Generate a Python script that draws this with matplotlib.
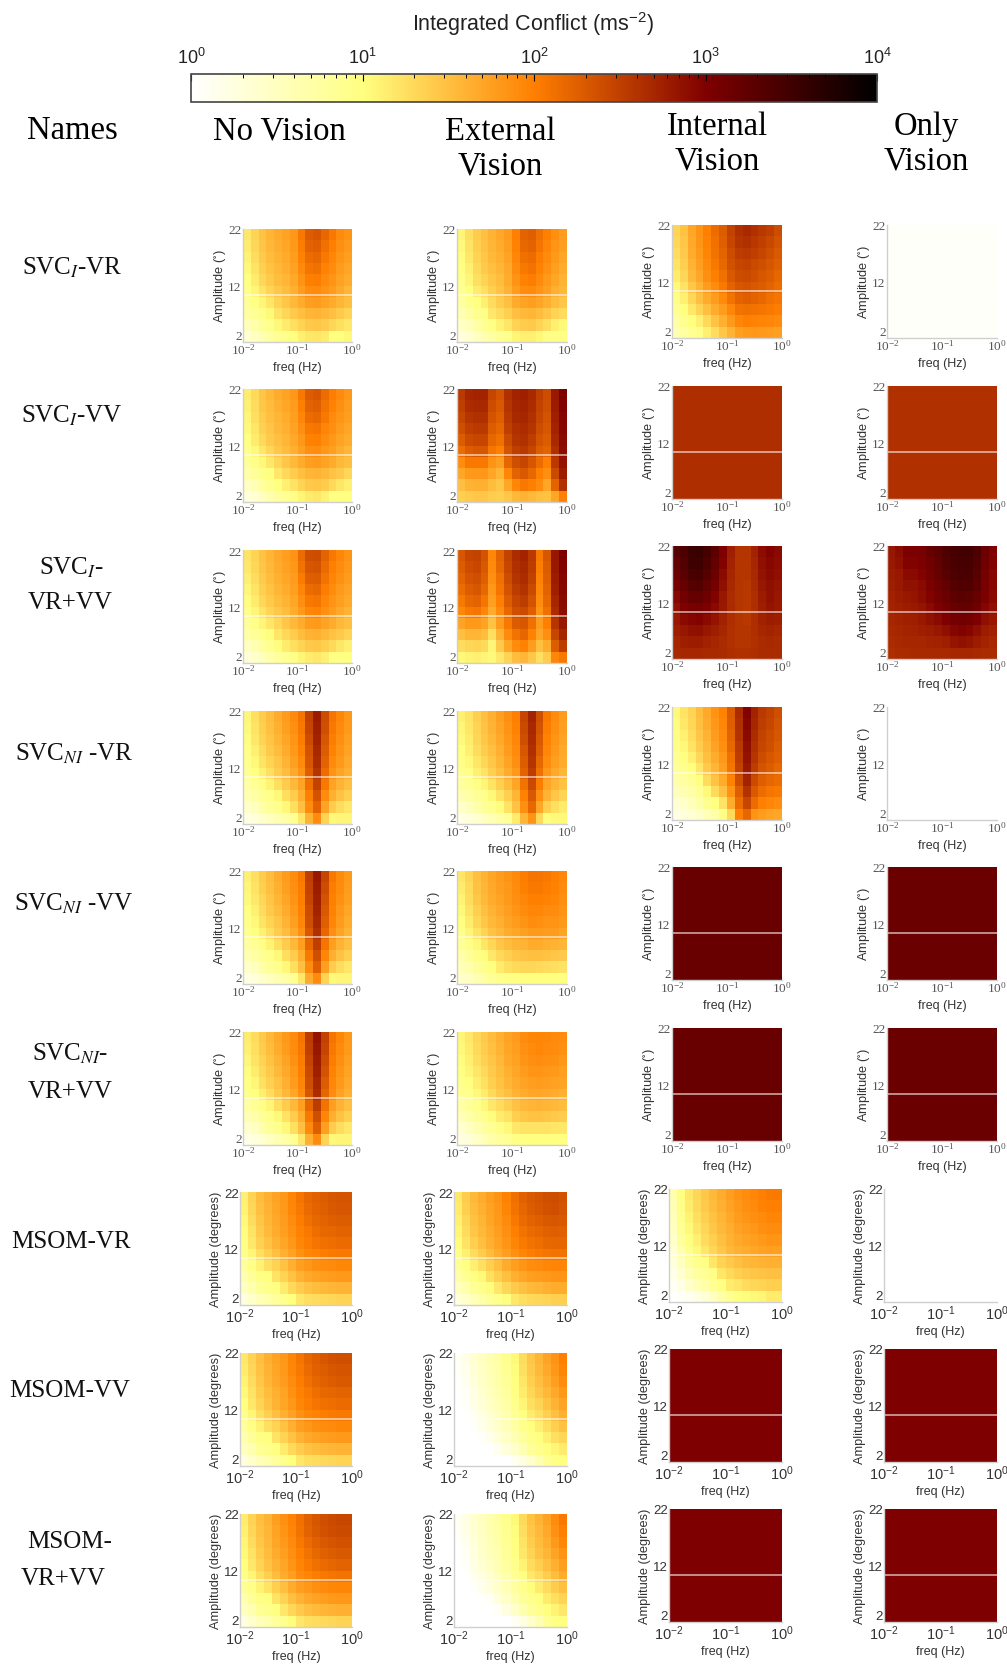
"""Integrated conflict heatmaps: motion cueing models x vision conditions."""
import matplotlib
matplotlib.use("Agg")
import matplotlib.pyplot as plt
import numpy as np
from matplotlib.cm import ScalarMappable
from matplotlib.colors import LinearSegmentedColormap, LogNorm

plt.rcParams["font.family"] = ["Liberation Sans", "DejaVu Sans"]
plt.rcParams["mathtext.fontset"] = "custom"
plt.rcParams["mathtext.rm"] = "Liberation Sans"
plt.rcParams["mathtext.it"] = "Liberation Sans:italic"
plt.rcParams["mathtext.default"] = "regular"

W, H = 1007, 1665

# log10(conflict) * 100, rows from 22 deg down to 2 deg, columns 0.01 -> 1 Hz
svc_i_vr_none = [
    [118, 135, 148, 158, 165, 172, 182, 205, 228, 232, 218, 205, 192, 185],
    [115, 132, 146, 156, 163, 170, 180, 202, 222, 226, 212, 200, 188, 180],
    [110, 128, 142, 152, 160, 167, 177, 198, 215, 218, 205, 195, 183, 175],
    [105, 122, 138, 148, 156, 163, 173, 192, 208, 212, 198, 190, 178, 170],
    [100, 115, 132, 142, 152, 158, 168, 185, 200, 202, 192, 184, 174, 165],
    [95, 108, 122, 135, 145, 152, 162, 178, 190, 192, 185, 178, 168, 158],
    [85, 98, 108, 120, 135, 145, 155, 165, 175, 178, 172, 165, 158, 150],
    [75, 85, 95, 105, 122, 132, 142, 150, 158, 160, 155, 150, 142, 135],
    [55, 68, 82, 92, 105, 115, 125, 135, 142, 145, 140, 132, 125, 118],
    [38, 48, 60, 72, 85, 92, 100, 112, 118, 120, 115, 100, 100, 105],
]
svc_i_vr_ext = [
    [108, 125, 140, 150, 160, 168, 178, 200, 222, 225, 212, 200, 188, 178],
    [105, 122, 138, 148, 158, 165, 175, 198, 218, 222, 208, 196, 184, 175],
    [102, 118, 135, 145, 155, 162, 172, 195, 212, 215, 202, 192, 180, 170],
    [98, 112, 130, 142, 150, 158, 168, 190, 205, 210, 198, 186, 175, 165],
    [92, 108, 125, 135, 145, 152, 165, 185, 198, 202, 192, 180, 170, 160],
    [85, 100, 115, 125, 138, 148, 160, 178, 190, 192, 184, 175, 162, 155],
    [75, 90, 100, 112, 128, 140, 150, 165, 172, 175, 170, 162, 152, 145],
    [60, 75, 88, 95, 118, 128, 138, 150, 155, 158, 152, 145, 135, 128],
    [45, 55, 72, 85, 98, 110, 120, 135, 140, 142, 135, 125, 112, 105],
    [28, 38, 50, 62, 72, 82, 92, 108, 112, 112, 105, 95, 95, 98],
]
svc_i_vr_int = [
    [135, 148, 170, 185, 200, 215, 228, 248, 262, 268, 262, 256, 250, 240],
    [132, 145, 168, 183, 198, 212, 225, 245, 258, 262, 256, 250, 243, 235],
    [128, 142, 165, 180, 196, 210, 222, 240, 252, 255, 250, 245, 238, 230],
    [122, 138, 160, 176, 192, 205, 218, 236, 245, 248, 242, 238, 232, 225],
    [115, 132, 155, 170, 188, 200, 212, 230, 240, 242, 238, 232, 228, 220],
    [105, 122, 145, 160, 178, 190, 205, 222, 232, 235, 230, 228, 222, 215],
    [95, 112, 132, 150, 165, 178, 192, 210, 222, 225, 222, 218, 212, 208],
    [85, 100, 118, 135, 150, 165, 178, 195, 210, 212, 210, 208, 205, 202],
    [70, 88, 100, 112, 130, 148, 162, 180, 195, 200, 198, 196, 195, 192],
    [60, 72, 85, 95, 112, 128, 145, 160, 175, 180, 182, 180, 178, 175],
]
svc_i_vr_only = [[4]]

svc_i_vv_none = [
    [115, 130, 146, 155, 165, 172, 182, 205, 228, 232, 215, 202, 192, 182],
    [112, 128, 144, 153, 162, 170, 178, 200, 222, 225, 210, 198, 188, 178],
    [108, 125, 140, 150, 158, 166, 175, 195, 215, 218, 205, 192, 184, 175],
    [105, 120, 136, 146, 155, 162, 172, 188, 205, 208, 196, 188, 178, 170],
    [100, 115, 130, 142, 150, 158, 168, 182, 198, 200, 190, 182, 172, 165],
    [92, 105, 120, 132, 145, 152, 162, 175, 188, 190, 182, 175, 165, 158],
    [82, 95, 105, 118, 132, 145, 155, 165, 175, 178, 172, 165, 155, 150],
    [70, 82, 92, 100, 118, 130, 140, 150, 158, 160, 155, 148, 142, 132],
    [48, 60, 78, 88, 100, 112, 122, 135, 142, 145, 140, 130, 120, 112],
    [30, 38, 50, 62, 75, 85, 95, 108, 115, 118, 110, 98, 98, 100],
]
svc_i_vv_ext = [
    [255, 270, 272, 272, 245, 235, 262, 272, 275, 268, 250, 240, 280, 300],
    [250, 265, 268, 268, 240, 230, 258, 270, 272, 265, 248, 238, 278, 298],
    [245, 258, 262, 262, 235, 225, 255, 268, 270, 262, 245, 235, 275, 296],
    [238, 250, 255, 255, 228, 220, 250, 262, 265, 258, 240, 232, 272, 295],
    [228, 242, 245, 245, 220, 212, 242, 258, 262, 252, 235, 228, 268, 292],
    [215, 228, 232, 232, 208, 200, 235, 250, 255, 245, 228, 222, 262, 290],
    [190, 205, 205, 205, 185, 175, 220, 238, 245, 232, 215, 200, 255, 285],
    [170, 180, 182, 182, 170, 158, 195, 222, 230, 218, 200, 188, 242, 278],
    [150, 160, 162, 162, 152, 145, 170, 195, 205, 200, 190, 170, 222, 262],
    [138, 142, 145, 145, 140, 138, 145, 155, 160, 155, 150, 148, 170, 200],
]
svc_i_vv_int = [[264]]
svc_i_vv_only = [[262]]

svc_i_both_none = [
    [122, 135, 148, 158, 168, 176, 185, 215, 238, 240, 222, 205, 195, 185],
    [118, 132, 146, 155, 165, 173, 182, 210, 232, 235, 216, 200, 190, 182],
    [113, 128, 142, 152, 162, 170, 178, 203, 225, 228, 210, 196, 186, 178],
    [108, 122, 138, 148, 158, 165, 175, 195, 215, 218, 202, 190, 180, 172],
    [102, 115, 132, 142, 152, 160, 170, 188, 205, 208, 195, 184, 175, 168],
    [95, 108, 122, 135, 145, 152, 165, 180, 195, 198, 186, 178, 168, 160],
    [82, 95, 108, 120, 132, 145, 155, 165, 178, 180, 172, 165, 155, 150],
    [72, 82, 92, 102, 120, 130, 140, 152, 160, 162, 155, 148, 142, 135],
    [50, 62, 78, 90, 102, 115, 125, 135, 142, 145, 138, 130, 120, 112],
    [32, 42, 52, 65, 78, 85, 95, 108, 115, 118, 112, 98, 98, 100],
]
svc_i_both_ext = [
    [232, 245, 248, 235, 195, 222, 248, 265, 272, 255, 205, 232, 282, 300],
    [228, 240, 244, 230, 192, 218, 245, 262, 268, 252, 202, 228, 280, 298],
    [222, 235, 238, 225, 188, 212, 240, 258, 265, 248, 198, 225, 278, 296],
    [215, 228, 232, 218, 182, 208, 235, 252, 260, 242, 195, 222, 275, 295],
    [205, 218, 222, 208, 175, 200, 228, 245, 252, 235, 190, 218, 270, 292],
    [195, 205, 208, 195, 165, 192, 218, 238, 242, 225, 185, 212, 265, 290],
    [172, 180, 180, 172, 148, 178, 205, 228, 232, 212, 178, 200, 258, 282],
    [150, 158, 158, 152, 125, 160, 192, 210, 220, 198, 170, 188, 245, 270],
    [128, 132, 135, 130, 108, 142, 170, 190, 198, 178, 150, 165, 228, 252],
    [105, 110, 112, 108, 105, 118, 135, 152, 158, 145, 125, 140, 195, 205],
]
svc_i_both_int = [
    [330, 340, 352, 355, 345, 325, 300, 275, 258, 258, 272, 290, 298, 292],
    [322, 335, 350, 350, 340, 320, 298, 272, 258, 258, 270, 288, 295, 290],
    [315, 330, 342, 345, 332, 315, 292, 270, 258, 258, 268, 285, 292, 288],
    [305, 320, 332, 335, 322, 308, 288, 268, 258, 256, 266, 282, 288, 284],
    [295, 310, 320, 322, 312, 298, 282, 265, 258, 256, 264, 278, 286, 282],
    [288, 300, 306, 308, 302, 292, 280, 266, 258, 256, 264, 276, 284, 280],
    [280, 292, 296, 298, 292, 284, 274, 264, 258, 256, 264, 274, 278, 276],
    [275, 282, 286, 288, 282, 276, 270, 262, 258, 258, 264, 270, 272, 270],
    [270, 276, 278, 278, 274, 270, 266, 262, 258, 258, 262, 266, 268, 266],
    [268, 270, 270, 270, 268, 268, 266, 264, 262, 262, 264, 266, 266, 266],
]
svc_i_both_only = [
    [282, 290, 302, 302, 305, 318, 325, 338, 345, 348, 348, 338, 315, 300],
    [280, 286, 298, 298, 302, 312, 322, 335, 342, 345, 345, 335, 312, 298],
    [278, 282, 292, 292, 298, 308, 318, 330, 338, 342, 342, 330, 308, 295],
    [276, 280, 286, 286, 292, 302, 312, 322, 332, 336, 336, 325, 305, 294],
    [274, 278, 282, 284, 290, 298, 308, 316, 325, 330, 328, 318, 302, 292],
    [272, 275, 278, 280, 284, 292, 300, 310, 318, 322, 320, 312, 296, 288],
    [270, 272, 275, 276, 280, 286, 292, 300, 308, 310, 308, 300, 288, 282],
    [268, 270, 272, 274, 276, 278, 282, 288, 296, 298, 296, 288, 278, 274],
    [266, 268, 270, 270, 270, 272, 274, 276, 284, 286, 284, 278, 272, 268],
    [264, 266, 266, 268, 268, 268, 268, 268, 270, 270, 270, 268, 266, 266],
]

svc_ni_vr_none = [
    [108, 125, 140, 152, 165, 178, 192, 208, 248, 278, 240, 208, 195, 182],
    [105, 122, 138, 150, 162, 175, 188, 205, 245, 275, 238, 205, 192, 180],
    [102, 118, 134, 146, 158, 170, 184, 202, 240, 272, 232, 202, 188, 176],
    [98, 112, 128, 142, 152, 165, 180, 198, 235, 268, 228, 198, 184, 172],
    [92, 106, 122, 135, 146, 160, 175, 192, 232, 265, 222, 192, 180, 168],
    [85, 100, 112, 125, 140, 152, 168, 185, 225, 258, 215, 185, 172, 162],
    [72, 85, 98, 110, 125, 140, 155, 172, 212, 248, 205, 172, 160, 150],
    [62, 72, 85, 92, 105, 125, 140, 162, 200, 235, 190, 162, 148, 138],
    [42, 52, 70, 82, 92, 105, 125, 150, 190, 222, 172, 140, 128, 118],
    [22, 30, 40, 50, 60, 70, 85, 118, 160, 190, 135, 105, 108, 108],
]
svc_ni_vr_ext = [
    [112, 122, 138, 150, 162, 175, 188, 200, 245, 272, 238, 205, 190, 178],
    [108, 120, 135, 148, 160, 172, 185, 198, 242, 268, 235, 202, 188, 175],
    [105, 116, 132, 145, 155, 168, 182, 195, 238, 265, 230, 198, 184, 172],
    [100, 112, 128, 140, 150, 162, 178, 192, 232, 262, 225, 195, 180, 168],
    [95, 106, 120, 132, 145, 158, 172, 188, 228, 258, 218, 190, 175, 165],
    [88, 98, 112, 122, 138, 150, 165, 180, 222, 252, 212, 182, 168, 158],
    [75, 85, 96, 108, 122, 138, 152, 170, 210, 242, 202, 170, 158, 148],
    [62, 72, 82, 92, 105, 122, 138, 158, 198, 230, 188, 160, 145, 135],
    [42, 52, 68, 80, 90, 102, 122, 148, 188, 218, 170, 138, 125, 115],
    [22, 30, 38, 48, 58, 68, 82, 115, 158, 185, 130, 102, 105, 105],
]
svc_ni_vr_int = [
    [105, 122, 135, 152, 168, 185, 198, 228, 265, 298, 272, 255, 248, 238],
    [102, 118, 132, 150, 165, 182, 195, 225, 262, 295, 270, 252, 245, 235],
    [98, 112, 128, 146, 160, 178, 192, 222, 260, 292, 265, 248, 240, 232],
    [92, 106, 122, 140, 156, 172, 188, 218, 255, 288, 262, 245, 238, 228],
    [85, 98, 112, 132, 150, 165, 182, 212, 252, 285, 258, 240, 232, 225],
    [78, 88, 100, 120, 142, 158, 175, 208, 248, 280, 252, 235, 228, 220],
    [65, 75, 85, 100, 128, 148, 165, 198, 238, 272, 242, 225, 220, 215],
    [52, 60, 70, 85, 105, 130, 150, 185, 225, 260, 230, 215, 208, 205],
    [35, 42, 55, 70, 88, 100, 122, 165, 215, 245, 215, 200, 195, 190],
    [20, 28, 35, 42, 58, 70, 95, 130, 200, 220, 185, 178, 172, 170],
]
svc_ni_vr_only = [[0]]

svc_ni_vv_none = [
    [112, 125, 140, 152, 165, 178, 190, 205, 250, 282, 245, 205, 192, 180],
    [108, 122, 138, 150, 162, 175, 188, 202, 248, 278, 240, 202, 190, 178],
    [105, 118, 132, 146, 158, 170, 185, 200, 245, 275, 235, 200, 186, 175],
    [100, 112, 128, 142, 152, 165, 180, 198, 240, 272, 230, 198, 182, 170],
    [95, 106, 122, 135, 146, 160, 175, 195, 238, 268, 225, 195, 178, 166],
    [88, 100, 112, 125, 140, 152, 168, 188, 230, 262, 218, 188, 172, 160],
    [75, 85, 98, 110, 125, 140, 155, 175, 218, 250, 208, 175, 160, 150],
    [62, 72, 85, 92, 105, 125, 140, 162, 205, 238, 195, 162, 148, 138],
    [42, 52, 70, 82, 92, 105, 125, 150, 190, 225, 175, 140, 128, 118],
    [22, 30, 40, 50, 60, 70, 85, 118, 165, 192, 135, 105, 108, 108],
]
svc_ni_vv_ext = [
    [120, 135, 150, 160, 170, 178, 185, 192, 202, 208, 208, 205, 200, 195],
    [115, 130, 148, 158, 168, 175, 182, 190, 200, 205, 205, 202, 198, 192],
    [110, 128, 144, 155, 165, 172, 180, 188, 195, 200, 200, 198, 195, 188],
    [105, 122, 138, 150, 160, 168, 176, 184, 190, 195, 195, 192, 190, 185],
    [100, 115, 132, 145, 155, 162, 172, 178, 185, 190, 188, 185, 185, 180],
    [92, 108, 122, 135, 148, 155, 165, 170, 175, 180, 180, 178, 178, 172],
    [80, 95, 105, 120, 132, 145, 152, 158, 160, 165, 165, 162, 160, 158],
    [68, 80, 95, 102, 118, 130, 138, 145, 148, 150, 150, 148, 145, 142],
    [55, 65, 80, 90, 100, 115, 125, 130, 132, 132, 130, 128, 125, 122],
    [40, 48, 60, 72, 82, 90, 95, 98, 100, 100, 100, 100, 100, 100],
]
svc_ni_vv_int = [[318]]
svc_ni_vv_only = [[316]]

svc_ni_both_none = [
    [115, 128, 142, 155, 168, 180, 192, 208, 252, 285, 248, 208, 195, 182],
    [112, 125, 140, 152, 165, 178, 190, 205, 250, 282, 245, 205, 192, 180],
    [108, 122, 135, 148, 160, 172, 186, 202, 246, 278, 240, 202, 188, 176],
    [102, 115, 130, 142, 155, 168, 182, 200, 242, 275, 235, 198, 184, 172],
    [98, 108, 124, 136, 148, 162, 178, 196, 238, 270, 228, 195, 180, 168],
    [90, 100, 114, 126, 142, 155, 170, 190, 232, 265, 220, 190, 174, 162],
    [72, 85, 96, 108, 125, 140, 155, 175, 218, 252, 210, 175, 160, 150],
    [60, 70, 82, 92, 105, 122, 140, 162, 205, 238, 195, 162, 148, 138],
    [40, 50, 68, 80, 92, 105, 125, 150, 192, 225, 175, 140, 128, 118],
    [20, 28, 38, 48, 60, 70, 85, 118, 162, 192, 135, 105, 108, 108],
]
svc_ni_both_ext = [
    [108, 118, 132, 142, 152, 162, 172, 178, 190, 194, 196, 194, 192, 190],
    [105, 115, 130, 140, 150, 160, 170, 176, 187, 192, 194, 192, 190, 186],
    [102, 112, 126, 136, 146, 156, 168, 174, 184, 188, 190, 188, 186, 182],
    [98, 108, 120, 130, 142, 152, 162, 170, 178, 184, 184, 182, 180, 176],
    [92, 100, 114, 124, 138, 148, 158, 165, 172, 176, 178, 176, 174, 172],
    [85, 92, 105, 116, 130, 142, 150, 160, 165, 170, 170, 168, 166, 162],
    [72, 82, 92, 105, 118, 128, 138, 148, 155, 158, 160, 158, 156, 152],
    [58, 68, 80, 90, 102, 115, 122, 138, 145, 148, 148, 146, 142, 140],
    [38, 48, 62, 75, 85, 95, 105, 118, 122, 122, 122, 122, 120, 118],
    [25, 32, 45, 55, 68, 78, 85, 95, 98, 100, 100, 100, 100, 100],
]
svc_ni_both_int = [[318]]
svc_ni_both_only = [[317]]

msom_vr_none = [
    [112, 135, 152, 162, 172, 182, 196, 208, 218, 224, 228, 232, 234, 234],
    [110, 132, 150, 160, 170, 180, 194, 206, 216, 222, 226, 230, 232, 232],
    [105, 128, 146, 158, 168, 178, 190, 202, 212, 218, 222, 226, 228, 228],
    [102, 122, 142, 154, 165, 175, 186, 198, 206, 214, 218, 220, 222, 222],
    [98, 118, 136, 148, 160, 170, 182, 194, 202, 208, 212, 214, 216, 216],
    [92, 108, 125, 138, 150, 162, 174, 186, 194, 198, 202, 204, 206, 206],
    [78, 95, 110, 125, 135, 148, 162, 175, 182, 188, 190, 192, 194, 194],
    [62, 80, 95, 100, 122, 135, 148, 160, 168, 172, 176, 178, 180, 180],
    [48, 62, 82, 92, 98, 115, 130, 140, 148, 152, 156, 158, 160, 160],
    [25, 40, 55, 65, 78, 90, 100, 118, 125, 128, 130, 132, 135, 135],
]
msom_vr_ext = [
    [118, 140, 155, 165, 175, 185, 198, 212, 224, 230, 234, 238, 240, 236],
    [115, 138, 152, 162, 172, 182, 196, 210, 220, 228, 232, 236, 238, 234],
    [112, 132, 148, 158, 170, 180, 192, 206, 216, 222, 226, 230, 232, 230],
    [108, 128, 145, 155, 165, 176, 188, 200, 210, 216, 220, 224, 226, 224],
    [102, 122, 138, 150, 162, 172, 184, 196, 204, 210, 214, 218, 220, 220],
    [95, 112, 128, 140, 152, 165, 176, 188, 196, 202, 206, 208, 210, 210],
    [82, 98, 112, 125, 138, 150, 165, 176, 184, 190, 192, 194, 196, 196],
    [68, 85, 98, 105, 125, 138, 150, 162, 170, 176, 178, 180, 184, 184],
    [50, 65, 82, 92, 102, 118, 132, 142, 150, 156, 158, 162, 165, 165],
    [30, 42, 55, 68, 80, 92, 102, 118, 125, 130, 132, 135, 138, 138],
]
msom_vr_int = [
    [65, 100, 118, 132, 145, 155, 165, 175, 185, 190, 195, 200, 204, 204],
    [60, 95, 115, 130, 142, 152, 162, 172, 182, 188, 192, 198, 200, 200],
    [55, 92, 110, 125, 138, 148, 158, 168, 178, 184, 188, 192, 196, 196],
    [50, 85, 105, 120, 132, 145, 155, 164, 174, 178, 182, 188, 190, 190],
    [42, 78, 100, 112, 128, 138, 150, 160, 168, 172, 176, 180, 184, 184],
    [35, 65, 90, 105, 120, 132, 145, 155, 162, 166, 170, 174, 176, 176],
    [28, 50, 75, 90, 98, 120, 135, 142, 150, 155, 158, 160, 162, 162],
    [18, 38, 60, 75, 85, 95, 120, 130, 138, 142, 146, 148, 150, 150],
    [10, 22, 42, 58, 70, 85, 98, 115, 120, 128, 132, 135, 138, 138],
    [3, 6, 12, 22, 32, 48, 68, 85, 100, 102, 105, 108, 115, 115],
]
msom_vr_only = [[0]]

msom_vv_none = [
    [118, 135, 150, 162, 172, 182, 196, 208, 220, 226, 232, 236, 238, 238],
    [115, 132, 148, 160, 170, 180, 194, 206, 216, 224, 228, 232, 234, 234],
    [110, 128, 145, 158, 168, 178, 190, 202, 212, 220, 224, 228, 230, 230],
    [105, 122, 140, 152, 162, 172, 186, 198, 206, 214, 218, 220, 222, 222],
    [100, 118, 135, 148, 160, 170, 182, 194, 202, 208, 212, 214, 216, 216],
    [92, 108, 125, 138, 150, 162, 174, 186, 194, 198, 202, 204, 206, 206],
    [78, 95, 110, 125, 135, 148, 162, 175, 182, 188, 190, 192, 194, 194],
    [62, 80, 95, 100, 122, 135, 148, 160, 168, 172, 176, 178, 180, 180],
    [48, 62, 82, 92, 98, 115, 130, 140, 148, 152, 156, 158, 160, 160],
    [25, 40, 55, 65, 78, 90, 100, 118, 125, 128, 130, 132, 135, 135],
]
msom_vv_ext = [
    [8, 20, 35, 48, 60, 72, 88, 105, 128, 145, 158, 172, 185, 200],
    [5, 16, 32, 45, 58, 70, 85, 102, 125, 142, 155, 168, 182, 196],
    [3, 12, 28, 42, 55, 68, 82, 100, 120, 138, 150, 162, 175, 190],
    [0, 8, 22, 38, 50, 62, 78, 98, 115, 132, 145, 155, 168, 182],
    [0, 4, 18, 32, 45, 58, 72, 92, 108, 125, 135, 148, 160, 172],
    [0, 2, 10, 24, 38, 50, 65, 85, 100, 115, 125, 138, 150, 162],
    [0, 0, 5, 15, 28, 42, 55, 72, 92, 100, 112, 125, 138, 148],
    [0, 0, 0, 5, 15, 30, 45, 60, 78, 92, 100, 112, 125, 132],
    [0, 0, 0, 0, 0, 12, 28, 42, 60, 80, 92, 100, 108, 115],
    [0, 0, 0, 0, 0, 0, 0, 12, 25, 40, 60, 85, 98, 100],
]
msom_vv_int = [[300]]
msom_vv_only = [[300]]

msom_both_none = [
    [115, 135, 150, 160, 175, 186, 198, 212, 224, 232, 238, 242, 244, 244],
    [112, 132, 148, 158, 172, 184, 196, 210, 222, 230, 236, 240, 242, 242],
    [108, 128, 145, 156, 170, 180, 192, 206, 216, 224, 230, 234, 236, 236],
    [105, 122, 140, 152, 165, 176, 188, 200, 210, 218, 224, 228, 230, 230],
    [100, 118, 135, 148, 160, 170, 184, 196, 204, 212, 216, 220, 222, 222],
    [92, 108, 125, 138, 152, 165, 176, 190, 196, 202, 206, 208, 210, 210],
    [80, 95, 110, 122, 138, 150, 165, 176, 182, 188, 192, 194, 196, 196],
    [62, 80, 95, 100, 122, 135, 150, 160, 168, 172, 176, 180, 182, 182],
    [48, 62, 82, 92, 98, 118, 132, 142, 150, 154, 158, 160, 162, 162],
    [25, 40, 55, 65, 78, 90, 102, 118, 125, 128, 130, 132, 135, 135],
]
msom_both_ext = [
    [10, 22, 38, 50, 62, 75, 90, 105, 130, 148, 160, 172, 190, 205],
    [6, 18, 34, 46, 60, 72, 88, 102, 126, 145, 156, 168, 186, 200],
    [3, 14, 30, 44, 56, 68, 84, 100, 122, 140, 152, 164, 180, 195],
    [0, 10, 24, 40, 52, 64, 80, 98, 118, 135, 148, 158, 172, 185],
    [0, 5, 20, 34, 46, 60, 75, 92, 110, 128, 138, 150, 162, 175],
    [0, 2, 12, 25, 38, 52, 68, 85, 100, 118, 128, 140, 152, 165],
    [0, 0, 5, 15, 28, 42, 58, 75, 92, 102, 115, 128, 140, 150],
    [0, 0, 0, 3, 10, 28, 45, 62, 80, 92, 100, 115, 125, 135],
    [0, 0, 0, 0, 0, 8, 25, 42, 62, 80, 92, 100, 110, 118],
    [0, 0, 0, 0, 0, 0, 0, 10, 24, 40, 60, 85, 98, 100],
]
msom_both_int = [[300]]
msom_both_only = [[300]]

panels = [
    [svc_i_vr_none, svc_i_vr_ext, svc_i_vr_int, svc_i_vr_only],
    [svc_i_vv_none, svc_i_vv_ext, svc_i_vv_int, svc_i_vv_only],
    [svc_i_both_none, svc_i_both_ext, svc_i_both_int, svc_i_both_only],
    [svc_ni_vr_none, svc_ni_vr_ext, svc_ni_vr_int, svc_ni_vr_only],
    [svc_ni_vv_none, svc_ni_vv_ext, svc_ni_vv_int, svc_ni_vv_only],
    [svc_ni_both_none, svc_ni_both_ext, svc_ni_both_int, svc_ni_both_only],
    [msom_vr_none, msom_vr_ext, msom_vr_int, msom_vr_only],
    [msom_vv_none, msom_vv_ext, msom_vv_int, msom_vv_only],
    [msom_both_none, msom_both_ext, msom_both_int, msom_both_only],
]

freq_ticks = [0.01, 0.1, 1]
freq_labels = ["$10^{-2}$", "$10^{-1}$", "$10^{0}$"]
amp_ticks = [2, 12, 22]
amp_labels = ["2", "12", "22"]
seam_amp = 10.4

# pixel geometry of the page
svc_left = [243, 457, 672, 887]
msom_left = [240, 454, 669, 884]
right = [352, 567, 782, 997]
top_outer = [230, 390, 551, 712, 872, 1033, 1193, 1354, 1515]
top_inner = [226, 387, 547, 708, 868, 1029, 1190, 1350, 1510]
panel_h = 113

cmap = LinearSegmentedColormap.from_list(
    "conflict", ["#ffffff", "#ffff80", "#ff8000", "#800000", "#000000"], N=512)
norm = LogNorm(1, 1e4)


def px_text(x, y, s, **kw):
    kw.setdefault("ha", "center")
    kw.setdefault("va", "center")
    fig.text(x / W, 1 - y / H, s, **kw)


def draw_panel(r, c):
    msom = r >= 6
    left = (msom_left if msom else svc_left)[c]
    top = (top_outer if c < 2 else top_inner)[r]
    ax = fig.add_axes([left / W, 1 - (top + panel_h) / H,
                       (right[c] - left) / W, panel_h / H])
    z = np.array(panels[r][c], dtype=float)
    fx = np.logspace(-2, 0, z.shape[1] + 1)
    amp = np.linspace(22, 2, z.shape[0] + 1)
    ax.pcolormesh(fx, amp, 10 ** (z / 100), cmap=cmap, norm=norm,
                  linewidth=0, rasterized=True)
    ax.set_xscale("log")
    ax.set_xlim(0.01, 1)
    ax.set_ylim(2, 22)
    ax.axhline(seam_amp, color="white", lw=1.1, alpha=0.7)
    for s in ("top", "right"):
        ax.spines[s].set_visible(False)
    for s in ("left", "bottom"):
        ax.spines[s].set_color("#cfcfcf")
        ax.spines[s].set_linewidth(1.0)
    ax.minorticks_off()
    ax.set_xticks(freq_ticks)
    ax.set_xticklabels(freq_labels)
    ax.set_yticks(amp_ticks)
    ax.set_yticklabels(amp_labels)
    ax.tick_params(axis="y", length=0, pad=1)
    ax.tick_params(axis="x", length=0, pad=1 if msom else 0)
    for t in ax.get_xticklabels():
        if msom:
            t.set_fontsize(10.5)
            t.set_color("#333333")
    for t in ax.get_yticklabels():
        if msom:
            t.set_fontsize(9.5)
            t.set_color("#333333")
    if not msom:
        for t in ax.get_xticklabels() + ax.get_yticklabels():
            t.set_family("Liberation Serif")
            t.set_math_fontfamily("cm")
            t.set_fontsize(9.5)
            t.set_color("#555555")
    # the lowest amplitude label sits just above the frequency labels
    ax.get_yticklabels()[0].set_verticalalignment("bottom")
    ax.set_xlabel("freq (Hz)", fontsize=9, color="#333333",
                  labelpad=3 if not msom else 2)
    ylab = "Amplitude (degrees)" if msom else r"Amplitude ($^{\circ}$)"
    ax.set_ylabel(ylab, fontsize=9.2, color="#333333", labelpad=1 if msom else 0)
    return ax


fig = plt.figure(figsize=(W / 100, H / 100), dpi=100)

for r in range(len(panels)):
    for c in range(4):
        draw_panel(r, c)

# colour bar
cax = fig.add_axes([191 / W, 1 - 103 / H, (877 - 191) / W, 28 / H])
cb = fig.colorbar(ScalarMappable(norm=norm, cmap=cmap), cax=cax,
                  orientation="horizontal")
cax.xaxis.set_ticks_position("top")
cax.tick_params(which="major", direction="in", length=5, width=0.8, labelsize=13,
                pad=5, labelcolor="#222222")
cax.tick_params(which="minor", direction="in", length=3, width=0.7)
cb.outline.set_edgecolor("#444444")
cb.outline.set_linewidth(1.2)
px_text(533, 24, "Integrated Conflict (ms$^{-2}$)", fontsize=15.5, color="#222222")

# headings
serif = "Liberation Serif"
head = 23.5
px_text(72, 131, "Names", family=serif, fontsize=head)
px_text(279, 131, "No Vision", family=serif, fontsize=head)
px_text(500, 132, "External", family=serif, fontsize=head)
px_text(500, 166, "Vision", family=serif, fontsize=head)
px_text(717, 127, "Internal", family=serif, fontsize=head)
px_text(717, 161, "Vision", family=serif, fontsize=head)
px_text(926, 127, "Only", family=serif, fontsize=head)
px_text(926, 161, "Vision", family=serif, fontsize=head)

# row names
name_x = [72, 72, 71, 74, 74, 70, 71, 70, 70]
name_y = [268, 416, 568, 754, 904, 1054, 1242, 1391, 1542]
names = [r"SVC$_{\mathit{I}}$-VR", r"SVC$_{\mathit{I}}$-VV", r"SVC$_{\mathit{I}}$-",
         r"SVC$_{\mathit{NI}}$ -VR", r"SVC$_{\mathit{NI}}$ -VV", r"SVC$_{\mathit{NI}}$-",
         "MSOM-VR", "MSOM-VV", "MSOM-"]
second_x = {2: 70, 5: 70, 8: 63}
second_y = {2: 603, 5: 1092, 8: 1579}
for i, name in enumerate(names):
    px_text(name_x[i], name_y[i], name, family=serif, fontsize=18,
            math_fontfamily="stix", color="#111111")
    if i in second_x:
        px_text(second_x[i], second_y[i], "VR+VV", family=serif, fontsize=18,
                color="#111111")

fig.savefig("out.png", dpi=100)
plt.close()
